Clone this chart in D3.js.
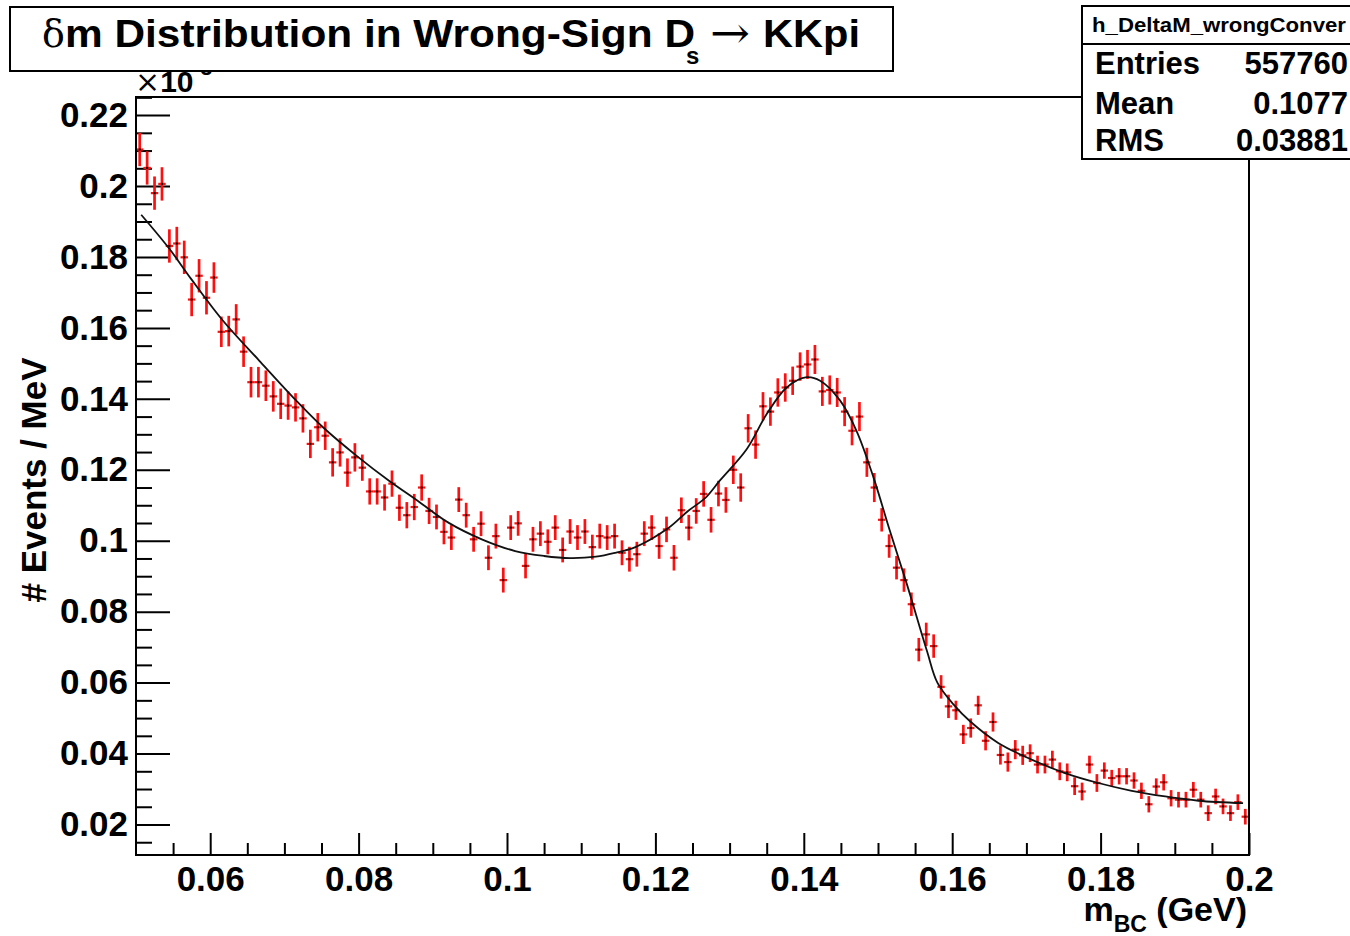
<!DOCTYPE html>
<html><head><meta charset="utf-8">
<script src="https://cdn.jsdelivr.net/npm/d3@7"></script>
<style>body{margin:0;background:#fff}svg{display:block}</style>
</head><body>
<svg id="c" width="1350" height="936"></svg>
<script>
// ---- data ----
const histLow = 0.05, histHigh = 0.2, binWidth = 0.001;
const counts = [
0.2103,0.2051,0.1980,0.2006,0.1831,0.1838,0.1799,0.1680,0.1747,0.1685,
0.1742,0.1589,0.1591,0.1624,0.1533,0.1447,0.1447,0.1437,0.1407,0.1386,
0.1381,0.1376,0.1345,0.1273,0.1320,0.1296,0.1221,0.1249,0.1192,0.1235,
0.1206,0.1139,0.1139,0.1122,0.1161,0.1093,0.1072,0.1095,0.1150,0.1084,
0.1067,0.1025,0.1009,0.1116,0.1072,0.1004,0.1048,0.0952,0.1013,0.0889,
0.1037,0.1049,0.0929,0.1004,0.1020,0.0997,0.1037,0.0974,0.1026,0.1009,
0.1026,0.0982,0.1013,0.1009,0.1013,0.0966,0.0948,0.0962,0.1020,0.1037,
0.0985,0.1032,0.0952,0.1086,0.1037,0.1084,0.1132,0.1059,0.1133,0.1115,
0.1200,0.1150,0.1317,0.1271,0.1379,0.1364,0.1418,0.1432,0.1451,0.1491,
0.1497,0.1511,0.1421,0.1425,0.1418,0.1364,0.1310,0.1350,0.1221,0.1150,
0.1059,0.0985,0.0924,0.0889,0.0821,0.0693,0.0736,0.0703,0.0588,0.0533,
0.0522,0.0454,0.0472,0.0536,0.0436,0.0489,0.0396,0.0376,0.0411,0.0395,
0.0401,0.0369,0.0369,0.0383,0.0350,0.0347,0.0308,0.0293,0.0369,0.0317,
0.0352,0.0331,0.0336,0.0336,0.0324,0.0295,0.0257,0.0307,0.0319,0.0274,
0.0270,0.0270,0.0298,0.0270,0.0232,0.0279,0.0251,0.0232,0.0263,0.0222];
// error half-heights, one value per block of 10 bins
const blockErrors = [0.0047,0.0043,0.0040,0.0037,0.0035,0.0035,0.0035,0.0036,0.0040,0.0041,0.0033,0.0027,0.0025,0.0023,0.0022];
// fit curve samples
const fitX = [0.0507,0.0545,0.0574,0.0617,0.0666,0.0716,0.0752,0.0797,0.0841,0.0880,0.0921,0.0966,0.1011,0.1050,0.1085,0.1120,0.1146,0.1173,0.1217,0.1244,0.1267,0.1287,0.1323,0.1350,0.1377,0.1404,0.1422,0.1449,0.1471,0.1494,0.1516,0.1539,0.1566,0.1580,0.1602,0.1624,0.1662,0.1707,0.1752,0.1797,0.1842,0.1887,0.1932,0.1992];
const fitY = [0.1919,0.1823,0.1739,0.1621,0.1508,0.1395,0.1320,0.1240,0.1169,0.1112,0.1051,0.1004,0.0971,0.0957,0.0951,0.0955,0.0966,0.0982,0.1035,0.1084,0.1120,0.1170,0.1258,0.1357,0.1432,0.1461,0.1451,0.1395,0.1310,0.1178,0.1028,0.0877,0.0689,0.0600,0.0538,0.0491,0.0430,0.0383,0.0345,0.0317,0.0295,0.0279,0.0267,0.0260];
const xTickValues = [0.06,0.08,0.1,0.12,0.14,0.16,0.18,0.2];
const xTickLabels = ["0.06","0.08","0.1","0.12","0.14","0.16","0.18","0.2"];
const yTickValues = [0.02,0.04,0.06,0.08,0.1,0.12,0.14,0.16,0.18,0.2,0.22];
const yTickLabels = ["0.02","0.04","0.06","0.08","0.1","0.12","0.14","0.16","0.18","0.2","0.22"];
const statNames = ["Entries","Mean","RMS"];
const statValues = ["557760","0.1077","0.03881"];
const histName = "h_DeltaM_wrongConver";

// ---- drawing ----
const svg = d3.select("#c");
const F = "'Liberation Sans', Arial, Helvetica, sans-serif";
const FS = "'DejaVu Serif', 'Liberation Serif', serif";
const L = 136, R = 1249, T = 97, B = 855;
const x = d3.scaleLinear().domain([histLow, histHigh]).range([L, R]);
const y = d3.scaleLinear().domain([0.0114, 0.2251]).range([B, T]);

svg.append("rect").attr("width",1350).attr("height",936).attr("fill","#fff");

// minor ticks
const minorX = d3.range(0, 31).map(i => +(histLow + i*0.005).toFixed(4)).filter(v => !xTickValues.some(t => Math.abs(t-v) < 1e-9) && v > histLow && v < histHigh);
const minorY = d3.range(0, 60).map(i => +(0.015 + i*0.005).toFixed(4)).filter(v => v < 0.2251 && !yTickValues.some(t => Math.abs(t-v) < 1e-9));

const gx = svg.append("g").attr("transform",`translate(0,${B})`)
  .call(d3.axisBottom(x).tickValues(xTickValues).tickFormat((d,i)=>xTickLabels[i]).tickSizeInner(-22).tickSizeOuter(0).tickPadding(11));
gx.select(".domain").remove();
gx.selectAll("line").attr("stroke","#000").attr("stroke-width",2);
gx.selectAll("text").attr("font-family",F).attr("font-weight","bold").attr("font-size",35).attr("fill","#000");
const gxm = svg.append("g").attr("transform",`translate(0,${B})`)
  .call(d3.axisBottom(x).tickValues(minorX).tickFormat("").tickSizeInner(-12).tickSizeOuter(0));
gxm.select(".domain").remove();
gxm.selectAll("line").attr("stroke","#000").attr("stroke-width",2);

const gy = svg.append("g").attr("transform",`translate(${L},0)`)
  .call(d3.axisLeft(y).tickValues(yTickValues).tickFormat((d,i)=>yTickLabels[i]).tickSizeInner(-34).tickSizeOuter(0).tickPadding(8));
gy.select(".domain").remove();
gy.selectAll("line").attr("stroke","#000").attr("stroke-width",2);
gy.selectAll("text").attr("font-family",F).attr("font-weight","bold").attr("font-size",35).attr("fill","#000");
const gym = svg.append("g").attr("transform",`translate(${L},0)`)
  .call(d3.axisLeft(y).tickValues(minorY).tickFormat("").tickSizeInner(-16).tickSizeOuter(0));
gym.select(".domain").remove();
gym.selectAll("line").attr("stroke","#000").attr("stroke-width",2);

// data points with error bars
const bins = counts.map((v,i)=>({c: histLow + (i+0.5)*binWidth, lo: histLow + i*binWidth, hi: histLow + (i+1)*binWidth, v, e: blockErrors[Math.floor(i/10)]}));
svg.append("clipPath").attr("id","plotclip").append("rect").attr("x",L).attr("y",T).attr("width",R-L).attr("height",B-T);
const gp = svg.append("g").attr("clip-path","url(#plotclip)");
gp.selectAll("line.v").data(bins).join("line").attr("class","v")
  .attr("x1",d=>x(d.c)).attr("x2",d=>x(d.c)).attr("y1",d=>y(d.v+d.e)).attr("y2",d=>y(d.v-d.e))
  .attr("stroke","#ff1010").attr("stroke-width",2.7);
gp.selectAll("line.h").data(bins).join("line").attr("class","h")
  .attr("x1",d=>x(d.lo)).attr("x2",d=>x(d.hi)).attr("y1",d=>y(d.v)).attr("y2",d=>y(d.v))
  .attr("stroke","#ff1010").attr("stroke-width",2.2);
gp.selectAll("rect.m").data(bins).join("rect").attr("class","m")
  .attr("x",d=>x(d.c)-1).attr("y",d=>y(d.v)-1).attr("width",2).attr("height",2).attr("fill","#000");

// fit curve
const fitPts = fitX.map((v,i)=>[v, fitY[i]]);
gp.append("path").datum(fitPts)
  .attr("d", d3.line().x(d=>x(d[0])).y(d=>y(d[1])).curve(d3.curveCatmullRom.alpha(0.5)))
  .attr("fill","none").attr("stroke","#111").attr("stroke-width",1.8);

// frame
svg.append("rect").attr("x",L).attr("y",T).attr("width",R-L).attr("height",B-T)
  .attr("fill","none").attr("stroke","#000").attr("stroke-width",2);

// axis titles
const xt = svg.append("text").attr("x",1247).attr("y",921).attr("text-anchor","end")
  .attr("font-family",F).attr("font-weight","bold").attr("font-size",34).attr("fill","#000");
xt.append("tspan").text("m");
xt.append("tspan").attr("font-size",23).attr("dy",11).text("BC");
xt.append("tspan").attr("dy",-11).text(" (GeV)");

svg.append("text").attr("transform","translate(46,480) rotate(-90)").attr("text-anchor","middle")
  .attr("font-family",F).attr("font-weight","bold").attr("font-size",35).attr("fill","#000")
  .text("# Events / MeV");

// exponent label (partly hidden behind title box)
const ex = svg.append("text").attr("x",135).attr("y",92).attr("font-family",F).attr("font-size",30).attr("fill","#000");
ex.append("tspan").attr("font-family",FS).text("×");
ex.append("tspan").attr("font-weight","bold").text("10");
ex.append("tspan").attr("font-weight","bold").attr("font-size",21).attr("dy",-17).text("-3");

// title box
svg.append("rect").attr("x",10).attr("y",7).attr("width",883).attr("height",64)
  .attr("fill","#fff").attr("stroke","#000").attr("stroke-width",2);
const titleParts = [
  {t:"δ", x:42, y:47, fs:38, fam:FS, w:"normal", len:null},
  {t:"m Distribution in Wrong-Sign D", x:65, y:47, fs:38, fam:F, w:"bold", len:630},
  {t:"s", x:686, y:64, fs:24, fam:F, w:"bold", len:null},
  {t:"→", x:710, y:48, fs:44, fam:FS, w:"normal", len:40},
  {t:"KKpi", x:763, y:47, fs:38, fam:F, w:"bold", len:97}
];
titleParts.forEach(p=>{
  const el = svg.append("text").attr("x",p.x).attr("y",p.y).attr("font-family",p.fam).attr("font-weight",p.w)
    .attr("font-size",p.fs).attr("fill","#000").text(p.t);
  if (p.len) el.attr("textLength",p.len).attr("lengthAdjust","spacingAndGlyphs");
});

// stats box
svg.append("rect").attr("x",1082).attr("y",6).attr("width",300).attr("height",153)
  .attr("fill","#fff").attr("stroke","#000").attr("stroke-width",2);
svg.append("line").attr("x1",1082).attr("x2",1350).attr("y1",44).attr("y2",44).attr("stroke","#000").attr("stroke-width",2);
svg.append("text").attr("x",1092).attr("y",32).attr("font-family",F).attr("font-weight","bold").attr("font-size",20)
  .attr("textLength",254).attr("lengthAdjust","spacingAndGlyphs").attr("fill","#000").text(histName);
const rowY = [74,114,151];
statNames.forEach((n,i)=>{
  svg.append("text").attr("x",1095).attr("y",rowY[i]).attr("font-family",F).attr("font-weight","bold").attr("font-size",31).attr("fill","#000").text(n);
  svg.append("text").attr("x",1348).attr("y",rowY[i]).attr("text-anchor","end").attr("font-family",F).attr("font-weight","bold").attr("font-size",31).attr("fill","#000").text(statValues[i]);
});
</script>
</body></html>
